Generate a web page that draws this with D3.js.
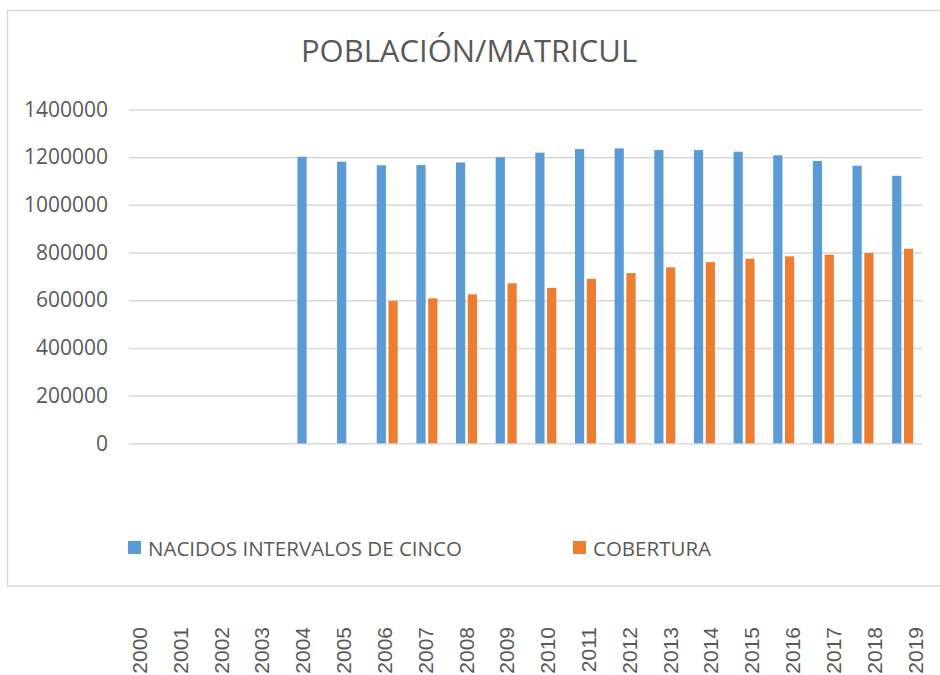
<!DOCTYPE html>
<html>
<head>
<meta charset="utf-8">
<script src="https://cdn.jsdelivr.net/npm/d3@7"></script>
<style>
	body { margin: 0; background: #fff; }
	svg { display: block; }
</style>
</head>
<body>
<div id="chart"></div>
<script>
const years = ["2000", "2001", "2002", "2003", "2004", "2005", "2006", "2007", "2008", "2009",
	"2010", "2011", "2012", "2013", "2014", "2015", "2016", "2017", "2018", "2019"];
const nacidos = [null, null, null, null, 1202000, 1181000, 1166000, 1167000, 1178000, 1200000,
	1219000, 1234000, 1237000, 1230000, 1230000, 1223000, 1208000, 1184000, 1164000, 1122000];
const cobertura = [null, null, null, null, null, null, 597000, 608000, 625000, 671000,
	652000, 690000, 714000, 738000, 760000, 774000, 784000, 791000, 798000, 816000];
const seriesNames = ["NACIDOS INTERVALOS DE CINCO", "COBERTURA"];
const seriesColors = ["#5B9BD5", "#ED7D31"];
const yTicks = [0, 200000, 400000, 600000, 800000, 1000000, 1200000, 1400000];

const width = 940;
const height = 675;
const textColor = "#595959";
const gridColor = "#d9d9d9";

const svg = d3.select("#chart")
	.append("svg")
	.attr("width", width)
	.attr("height", height);

// chart area border
svg.append("rect")
	.attr("x", 7.5)
	.attr("y", 10.5)
	.attr("width", 940)
	.attr("height", 575.5)
	.attr("fill", "none")
	.attr("stroke", gridColor)
	.attr("stroke-width", 1.5);

svg.append("text")
	.attr("x", 469)
	.attr("y", 62)
	.attr("text-anchor", "middle")
	.attr("fill", textColor)
	.style("font", "31px 'Open Sans'")
	.text("POBLACIÓN/MATRICUL");

const x = d3.scaleBand()
	.domain(years)
	.range([129, 922]);
const x1 = d3.scaleBand()
	.domain(seriesNames)
	.range([-10, 11])
	.paddingInner(0.22);
const y = d3.scaleLinear()
	.domain([0, 1400000])
	.range([443.3, 109.5]);

// gridlines + y labels
const yAxis = svg.append("g")
	.attr("transform", "translate(129, 0)")
	.call(d3.axisLeft(y)
		.tickValues(yTicks)
		.tickSize(-(922 - 129))
		.tickPadding(21)
		.tickFormat(d3.format("d")));
yAxis.select(".domain").remove();
yAxis.selectAll(".tick line")
	.attr("stroke", gridColor)
	.attr("stroke-width", 1.5);
yAxis.selectAll(".tick text")
	.attr("fill", textColor)
	.style("font", "21px 'Open Sans'");

const rows = years.map((yr, i) => ({ year: yr, values: [nacidos[i], cobertura[i]] }));

svg.append("g")
	.selectAll("g")
	.data(rows)
	.join("g")
	.attr("transform", d => `translate(${x(d.year) + x.bandwidth() / 2}, 0)`)
	.selectAll("rect")
	.data(d => d.values.map((v, i) => ({ key: seriesNames[i], value: v, i })).filter(d => d.value != null))
	.join("rect")
	.attr("x", d => x1(d.key))
	.attr("width", x1.bandwidth())
	.attr("y", d => y(d.value))
	.attr("height", d => y(0) - y(d.value))
	.attr("fill", d => seriesColors[d.i]);

// legend
const legendX = [128, 573];
const legend = svg.append("g")
	.selectAll("g")
	.data(seriesNames)
	.join("g")
	.attr("transform", (d, i) => `translate(${legendX[i]}, 541)`);
legend.append("rect")
	.attr("width", 13)
	.attr("height", 13)
	.attr("fill", (d, i) => seriesColors[i]);
legend.append("text")
	.attr("x", 20)
	.attr("y", 15)
	.attr("fill", textColor)
	.style("font", "20.5px 'Open Sans'")
	.text(d => d);

// year labels below the chart box
const xLabels = d3.scalePoint()
	.domain(years)
	.range([139.5, 915]);
svg.append("g")
	.selectAll("text")
	.data(years)
	.join("text")
	.attr("transform", d => `translate(${xLabels(d) + 7.5}, 627) rotate(-90)`)
	.attr("text-anchor", "end")
	.attr("fill", textColor)
	.style("font", "21px 'Liberation Sans'")
	.text(d => d);
</script>
</body>
</html>
